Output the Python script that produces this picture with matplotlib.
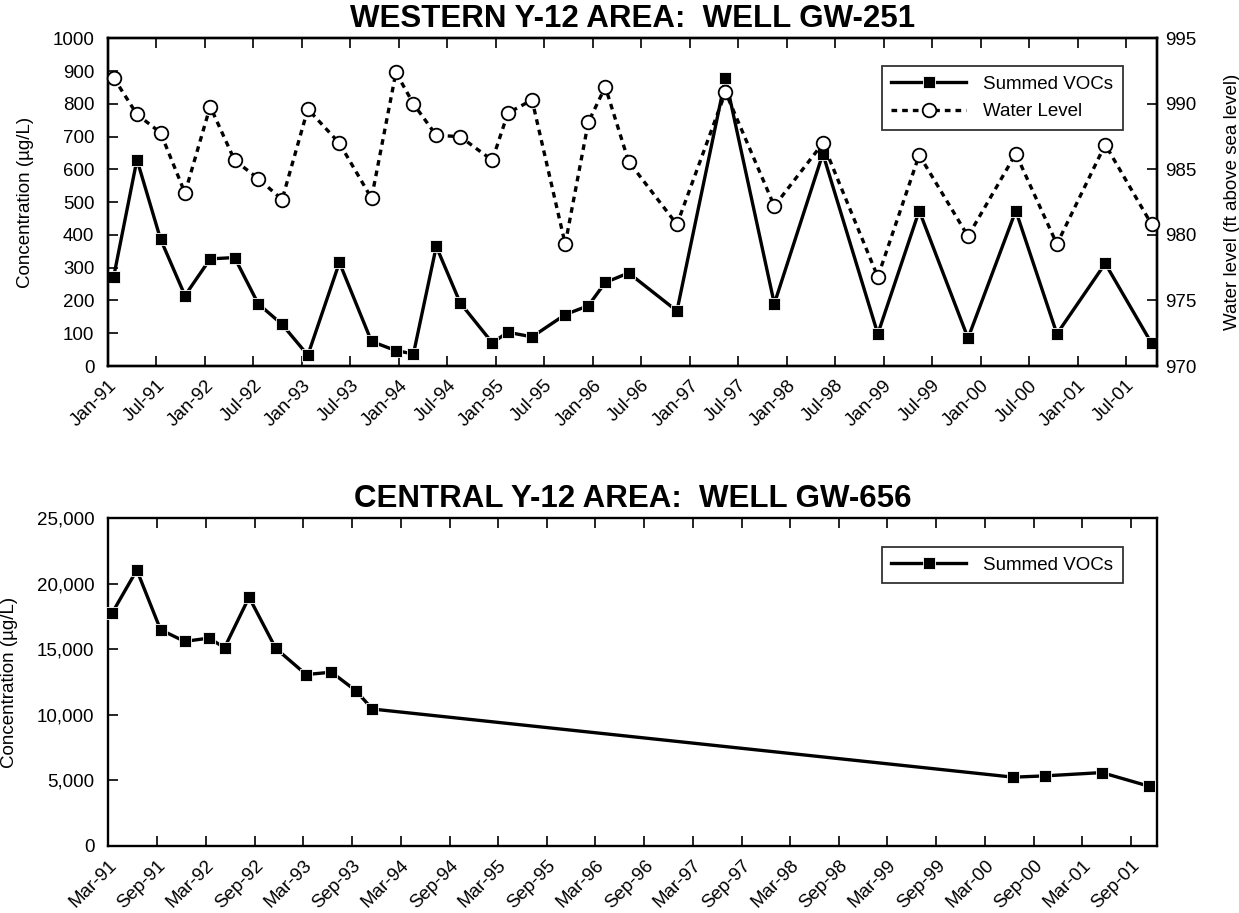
"""Two-panel VOC / water level history for Y-12 wells GW-251 and GW-656."""

import matplotlib

matplotlib.use("Agg")
import matplotlib.dates as mdates
import matplotlib.pyplot as plt
import numpy as np
from matplotlib.ticker import FuncFormatter, MultipleLocator

plt.rcParams["font.family"] = ["Liberation Sans", "DejaVu Sans"]

# --- Western Y-12 area, well GW-251 ---------------------------------------
west_dates = [
    "1991-01-21", "1991-04-19", "1991-07-17", "1991-10-17", "1992-01-20",
    "1992-04-21", "1992-07-19", "1992-10-17", "1993-01-22", "1993-05-21",
    "1993-09-19", "1993-12-20", "1994-02-24", "1994-05-21", "1994-08-19",
    "1994-12-18", "1995-02-15", "1995-05-17", "1995-09-19", "1995-12-15",
    "1996-02-17", "1996-05-15", "1996-11-13", "1997-05-15", "1997-11-15",
    "1998-05-17", "1998-12-10", "1999-05-15", "1999-11-15", "2000-05-13",
    "2000-10-15", "2001-04-15", "2001-10-07",
]
west_vocs = [
    271, 630, 387, 215, 327, 331, 190, 127, 33, 316, 75, 47, 37, 365, 193,
    71, 103, 89, 157, 184, 255, 284, 168, 878, 190, 648, 98, 474, 85, 474,
    98, 313, 69,
]
west_level = [
    992.0, 989.2, 987.8, 983.2, 989.8, 985.7, 984.3, 982.7, 989.6, 987.0,
    982.8, 992.4, 990.0, 987.6, 987.5, 985.7, 989.3, 990.3, 979.3, 988.6,
    991.3, 985.6, 980.8, 990.9, 982.2, 987.0, 976.8, 986.1, 979.9, 986.2,
    979.3, 986.9, 980.8,
]
west_xlim = ("1991-01-01", "2001-10-28")

# --- Central Y-12 area, well GW-656 ---------------------------------------
central_dates = [
    "1991-03-15", "1991-06-16", "1991-09-13", "1991-12-12", "1992-03-13",
    "1992-05-10", "1992-08-10", "1992-11-18", "1993-03-12", "1993-06-15",
    "1993-09-15", "1993-11-15", "2000-06-15", "2000-10-13", "2001-05-13",
    "2001-11-08",
]
central_vocs = [
    17760, 21050, 16500, 15610, 15860, 15130, 18975, 15080, 13080, 13260,
    11840, 10450, 5250, 5350, 5600, 4550,
]
central_xlim = ("1991-03-01", "2001-12-07")

FS = 13.5
LW = 2.4
SQ = dict(marker="s", markersize=9.2, markerfacecolor="black",
          markeredgecolor="white", markeredgewidth=0.6)
CIRC = dict(marker="o", markersize=9.8, markerfacecolor="white",
            markeredgecolor="black", markeredgewidth=1.3)


def to_dates(values):
    return np.array(values, dtype="datetime64[D]").astype("O")


def style_axes(ax, months):
    for side in ax.spines.values():
        side.set_linewidth(1.7)
    ax.xaxis.set_major_locator(mdates.MonthLocator(bymonth=months, bymonthday=1))
    ax.xaxis.set_major_formatter(mdates.DateFormatter("%b-%y"))
    ax.tick_params(axis="x", which="major", direction="in", top=True,
                   length=7, width=1.2, pad=8, labelsize=FS)
    ax.tick_params(axis="y", which="major", direction="in", right=False,
                   length=7, width=1.2, pad=10, labelsize=FS)
    for lab in ax.get_xticklabels():
        lab.set_rotation(45)
        lab.set_ha("right")
        lab.set_rotation_mode("anchor")


def legend(ax, handles, labels, top):
    leg = ax.legend(handles, labels, loc="upper right",
                    bbox_to_anchor=(0.967, top), fontsize=FS, frameon=True,
                    fancybox=False, handlelength=4.0, handletextpad=0.9,
                    labelspacing=0.55, borderpad=0.5, borderaxespad=0)
    leg.get_frame().set_edgecolor("black")
    leg.get_frame().set_linewidth(1.3)
    return leg


fig = plt.figure(figsize=(12.39, 9.13), dpi=100)
ax1 = fig.add_axes([0.0874, 0.5991, 0.8466, 0.3589])
ax2 = fig.add_axes([0.0874, 0.0734, 0.8466, 0.3589])

# top panel: concentration on the left, water level on a twin axis
wd = to_dates(west_dates)
h_voc, = ax1.plot(wd, west_vocs, color="black", lw=LW, clip_on=False,
                  zorder=3, **SQ)
ax1.set_ylim(0, 1000)
ax1.yaxis.set_major_locator(MultipleLocator(100))
ax1.set_xlim(*to_dates(west_xlim))
style_axes(ax1, (1, 7))
ax1.set_ylabel("Concentration (µg/L)", fontsize=FS)
ax1.yaxis.set_label_coords(-0.071, 0.5)

ax1r = ax1.twinx()
h_lvl, = ax1r.plot(wd, west_level, color="black", lw=LW,
                   linestyle=(0, (1.7, 1.5)), clip_on=False, zorder=3, **CIRC)
ax1r.set_ylim(970, 995)
ax1r.yaxis.set_major_locator(MultipleLocator(5))
ax1r.tick_params(axis="y", direction="in", length=7, width=1.2, pad=6,
                 labelsize=FS)
ax1r.set_ylabel("Water level (ft above sea level)", fontsize=FS)
ax1r.yaxis.set_label_coords(1.064, 0.5)
for side in ax1r.spines.values():
    side.set_linewidth(1.7)
legend(ax1r, [h_voc, h_lvl], ["Summed VOCs", "Water Level"], 0.915)

ax1.set_title("WESTERN Y-12 AREA:  WELL GW-251", fontsize=22.5,
              fontweight="bold", pad=8)

# bottom panel
cd = to_dates(central_dates)
h_c, = ax2.plot(cd, central_vocs, color="black", lw=LW, clip_on=False,
                zorder=3, **SQ)
ax2.set_ylim(0, 25000)
ax2.yaxis.set_major_locator(MultipleLocator(5000))
ax2.yaxis.set_major_formatter(FuncFormatter(lambda v, _: f"{v:,.0f}"))
ax2.set_xlim(*to_dates(central_xlim))
style_axes(ax2, (3, 9))
ax2.set_ylabel("Concentration (µg/L)", fontsize=FS)
ax2.yaxis.set_label_coords(-0.086, 0.5)
legend(ax2, [h_c], ["Summed VOCs"], 0.912)

ax2.set_title("CENTRAL Y-12 AREA:  WELL GW-656", fontsize=22.5,
              fontweight="bold", pad=8)

fig.savefig("out.png", dpi=100)
